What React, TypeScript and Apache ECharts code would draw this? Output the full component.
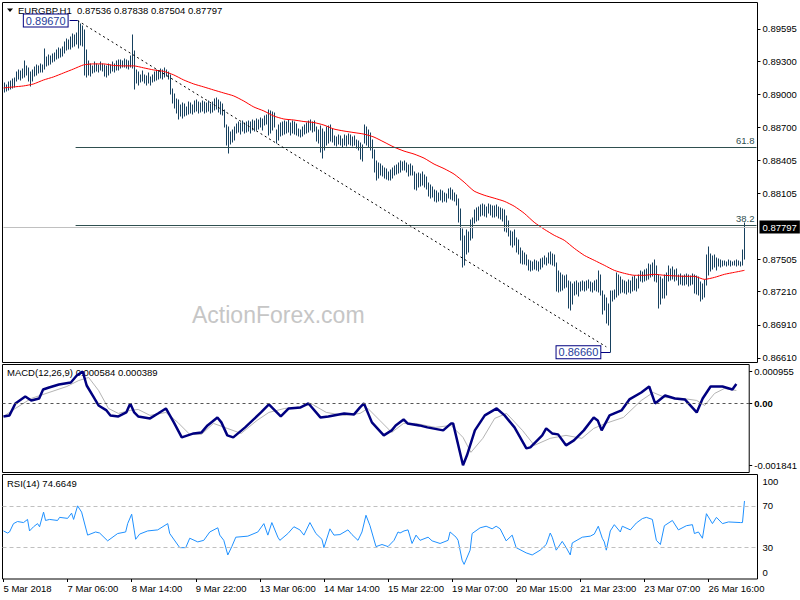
import React, { useEffect, useRef } from "react";
import * as echarts from "echarts";

// ---------- data ----------
const SYMBOL = "EURGBP,H1";
const LAST_OHLC = [0.87536, 0.87838, 0.87504, 0.87797];
const BASE = 0.86;
const UNIT = 1e-4; // price = BASE + u * UNIT

const HIGHS = [
  310,309,311,312,314,315,320,322,321,323,
  330,326,324,320,322,325,327,326,328,327,
  341,334,336,335,337,338,340,342,341,343,
  348,350,349,352,355,354,356,367,364,362,
  358,340,330,328,326,329,328,327,329,328,
  327,326,328,327,329,328,330,331,331,330,
  332,331,330,335,354,339,322,320,318,321,
  318,317,319,316,318,320,322,321,323,322,
  324,322,320,318,305,300,296,295,290,292,
  291,289,293,292,290,294,295,293,292,294,
  293,292,294,291,293,296,297,295,293,291,
  286,272,270,266,268,270,273,275,274,276,
  274,275,276,275,277,276,278,277,279,278,
  280,281,286,285,284,283,268,272,274,275,
  276,275,277,274,276,275,273,269,268,270,
  272,274,276,277,275,276,270,268,271,269,
  266,270,271,272,269,262,261,263,262,260,
  263,262,264,263,261,262,259,258,256,254,
  272,270,268,265,259,250,240,238,237,235,
  233,232,230,231,233,235,236,238,240,239,
  240,238,236,237,235,230,228,229,228,230,
  227,225,220,218,216,213,212,211,213,212,
  211,210,214,215,213,211,209,205,196,178,
  172,177,175,186,188,195,197,198,200,201,
  200,198,201,200,199,199,200,198,197,196,
  195,190,185,176,175,177,170,168,161,158,
  156,154,150,149,148,150,149,148,151,152,
  153,152,156,157,155,154,147,140,138,136,
  135,136,131,130,128,130,131,129,130,131,
  130,131,132,130,129,131,132,140,136,122,
  118,115,110,122,122,123,138,136,134,132,
  131,130,132,131,134,135,133,136,140,139,
  141,142,146,145,147,150,144,136,134,133,
  136,138,144,142,143,141,142,136,137,135,
  136,137,136,135,137,136,135,134,130,128,
  132,154,162,155,153,154,152,151,150,149,
  149,148,150,149,148,149,150,149,148,159,183.8
];
const LOWS = [
  302,303,304,305,306,307,312,314,313,315,
  316,318,312,308,312,317,318,319,320,320,
  323,326,327,328,329,330,332,333,334,335,
  338,340,341,341,343,344,346,342,345,344,
  318,316,318,317,319,320,321,320,322,321,
  317,316,318,319,321,320,322,322,324,325,
  325,324,323,325,324,305,310,309,311,312,
  310,309,310,309,311,312,313,314,315,314,
  316,317,314,300,292,288,283,278,280,279,
  280,281,282,283,282,284,285,283,284,285,
  283,284,285,283,284,286,287,284,282,281,
  270,254,247,255,257,259,265,266,264,267,
  265,266,267,265,268,267,268,269,270,268,
  272,273,263,265,268,270,256,259,262,263,
  264,265,266,263,265,264,263,262,261,262,
  264,265,266,268,266,267,258,256,248,242,
  250,254,256,258,257,254,253,255,254,252,
  254,253,255,254,253,254,251,250,241,240,
  256,254,252,250,242,230,222,224,227,226,
  224,223,222,222,224,227,228,229,230,231,
  231,230,226,227,227,214,213,216,217,218,
  216,214,208,206,207,203,202,203,204,202,
  203,202,206,205,204,203,200,184,168,143,
  145,155,157,168,170,183,185,186,190,191,
  190,189,192,191,189,189,190,188,187,185,
  176,175,172,163,162,163,157,155,147,146,
  146,145,141,140,141,142,141,140,142,143,
  146,145,147,146,145,144,122,121,122,123,
  124,125,106,104,110,118,119,117,122,123,
  122,123,124,122,121,123,122,121,118,101,
  104,93,91,66,113,114,116,118,120,121,
  120,119,121,120,122,123,122,124,131,130,
  131,132,133,134,135,131,130,106,110,115,
  115,118,131,132,133,131,132,127,128,127,
  127,128,126,127,128,120,119,118,113,114,
  116,127,136,140,142,143,141,144,143,144,
  145,144,145,144,145,145,144,145,144,145,150.4
];

// moving average readings: [bar, u]
const MA_POINTS = [
  [0,305.9],[5,306.8],[10,307.7],[15,309.5],[20,313.1],[25,315.9],[30,319.5],[35,323.1],
  [40,326.8],[45,327.7],[50,327.7],[55,326.3],[60,325.9],[65,325.9],[70,324.1],[75,322.2],
  [80,320.9],[85,317.7],[90,313.1],[95,309.5],[100,306.8],[105,304.0],[110,301.3],[115,298.6],
  [120,294.0],[125,288.6],[130,285.0],[135,280.4],[140,277.7],[145,276.8],[150,275.4],[155,274.5],
  [160,272.2],[165,268.6],[170,266.8],[175,265.4],[180,264.0],[185,261.3],[190,256.8],[195,252.2],
  [200,248.6],[205,245.9],[210,242.2],[215,236.8],[220,232.7],[225,227.7],[230,220.4],[235,212.3],
  [240,208.6],[245,205.9],[250,203.1],[255,198.6],[260,192.2],[265,184.0],[270,177.7],[275,172.2],
  [280,167.7],[285,160.4],[290,154.0],[295,149.5],[300,145.0],[305,140.4],[310,137.7],[315,135.9],
  [320,135.9],[325,136.8],[330,135.9],[335,135.4],[340,135.0],[345,135.0],[350,132.2],[355,134.0],
  [360,136.8],[365,138.6],[370,140.4]
];

// MACD readings: [bar, value in 1e-5]
const MACD_MAIN = [
  [0,-38.4],[3,-35.4],[6,0.3],[11,21.1],[14,9.2],[18,15.2],[20,41.9],[23,47.9],[28,56.8],[34,62.8],
  [37,83.6],[40,95.5],[42,53.8],[45,24.1],[48,-5.7],[52,-20.5],[54,-35.4],[58,-38.4],[62,-26.5],
  [64,0.3],[66,-26.5],[68,-38.4],[74,-44.3],[78,-29.5],[82,-14.6],[86,-56.2],[90,-100.9],[96,-89.0],
  [100,-86.0],[103,-65.2],[108,-41.4],[110,-56.2],[113,-94.9],[116,-100.9],[122,-71.1],[130,-26.5],
  [134,-2.7],[140,-38.4],[144,-14.6],[150,-11.6],[154,0.3],[160,-41.4],[164,-38.4],[172,-29.5],
  [177,-32.4],[180,-11.6],[182,0.3],[186,-56.2],[192,-94.9],[196,-80.0],[198,-65.2],[202,-47.3],
  [204,-59.2],[210,-65.2],[214,-71.1],[222,-80.0],[226,-59.2],[227,-59.2],[232,-184.1],[234,-154.4],
  [238,-80.0],[243,-35.4],[249,-14.6],[253,-35.4],[258,-71.1],[264,-133.6],[266,-130.6],[272,-94.9],
  [274,-74.1],[277,-89.0],[280,-91.9],[284,-124.6],[288,-109.8],[293,-80.0],[298,-41.4],[300,-50.3],
  [302,-80.0],[306,-35.4],[312,-20.5],[316,12.2],[322,33.0],[326,50.9],[329,0.3],[334,24.1],
  [339,15.2],[344,12.2],[350,-26.5],[353,15.2],[357,50.9],[363,50.9],[368,41.9],[370,58.4]
];
const MACD_SIGNAL = [
  [0,-38.4],[6,-14.6],[14,15.2],[23,33.0],[32,50.9],[38,68.7],[43,77.6],[48,39.0],[53,-14.6],
  [58,-29.5],[64,-20.5],[68,-17.6],[74,-35.4],[82,-26.5],[88,-56.2],[94,-91.9],[100,-91.9],
  [106,-59.2],[113,-74.1],[120,-89.0],[128,-50.3],[134,-26.5],[142,-14.6],[148,-11.6],[156,-2.7],
  [163,-26.5],[172,-35.4],[180,-29.5],[184,-14.6],[190,-50.3],[196,-86.0],[202,-59.2],[208,-59.2],
  [218,-71.1],[226,-65.2],[232,-100.9],[236,-145.5],[242,-103.8],[248,-44.3],[254,-29.5],
  [262,-80.0],[268,-124.6],[276,-103.8],[284,-94.9],[292,-103.8],[298,-74.1],[304,-59.2],
  [313,-41.4],[322,9.2],[328,33.0],[334,18.1],[343,15.2],[350,9.2],[354,-5.7],[359,30.0],
  [364,44.9],[370,38.9]
];
const MACD_LAST = [0.000584, 0.000389];

// RSI readings: [bar, value]
const RSI = [
  [0,46],[2,44],[3,45],[5,53],[7,55],[10,54],[12,57],[13,46],[15,50],[17,53],[18,50],[20,64],
  [21,56],[23,57],[27,56],[28,59],[32,58],[34,63],[35,57],[37,70],[39,64],[42,42],[46,45],[48,44],
  [52,36.5],[57,43.5],[61,45],[62,53],[64,62],[66,38],[68,43],[72,46],[77,47],[82,53],[83,43.5],
  [88,30],[91,30],[93,39],[97,35.5],[100,37],[103,45],[107,49],[108,42],[110,37],[112,23],[114,31],
  [116,40],[122,41],[127,45],[130,53],[132,42],[134,54],[137,40],[138,37],[142,43.5],[145,50],
  [148,47],[150,42],[153,54],[156,43.5],[159,38],[160,30],[163,48],[165,42],[168,42.5],[172,47],
  [174,42.5],[177,37],[179,45],[181,61],[183,51],[186,31],[189,33],[192,31],[195,37],[197,45],
  [198,44],[200,46],[202,47],[204,34],[206,42],[208,37],[212,40],[214,36.5],[218,34],[222,37],
  [223,45],[226,40],[227,37],[229,18],[230,14],[233,27.6],[234,43.5],[238,49],[241,50.5],[244,48],
  [246,50.5],[248,48],[251,36.5],[254,42],[256,30],[261,25],[264,23],[268,27.6],[271,33],[273,44],
  [274,40],[276,27.6],[279,36],[281,30],[283,23],[284,34.5],[289,40],[293,41],[295,43],[297,50.5],
  [299,39],[300,35.5],[301,27.6],[303,46],[305,52],[308,45],[309,50.5],[313,47],[316,53.6],
  [319,57.8],[321,59],[324,57],[326,37],[328,33],[330,51],[334,56],[337,47],[341,51],[344,52],
  [345,43.5],[347,45],[349,39],[351,62.5],[354,53],[356,59],[359,53],[362,54.6],[368,54],[369,54],
  [370,74.66]
];
const RSI_LAST = 74.6649;
const RSI_LEVELS = [70, 30];

const TIME_LABELS = [
  "5 Mar 2018", "7 Mar 06:00", "8 Mar 14:00", "9 Mar 22:00", "13 Mar 06:00", "14 Mar 14:00",
  "15 Mar 22:00", "19 Mar 07:00", "20 Mar 15:00", "21 Mar 23:00", "23 Mar 07:00", "26 Mar 16:00"
];
const PRICE_TICKS = [0.89595, 0.893, 0.89, 0.887, 0.88405, 0.88105, 0.87505, 0.8721, 0.8691, 0.8661];
const MACD_TICKS = [0.000955, 0, -0.001841];
const RSI_TICKS = [100, 70, 30, 0];

const SWING_HIGH = { bar: 37, price: 0.8967, text: "0.89670" };
const SWING_LOW = { bar: 303, price: 0.8666, text: "0.86660" };
const FIB_LEVELS = [
  { text: "61.8", price: 0.8852 },
  { text: "38.2", price: 0.8781 },
];
const FIB_START_BAR = 36;

// ---------- layout / style ----------
const SLOTS = 377; // bars plus right shift
const LABEL_EVERY = 32;
const FONT = '"Liberation Sans", Arial, sans-serif';
const BAR_COLOR = "#17415f";

export default function App() {
  const ref = useRef<HTMLDivElement>(null);

  useEffect(() => {
    if (!ref.current) return;
    const chart = echarts.init(ref.current, undefined, { renderer: "svg" });
    const cats = Array.from({ length: SLOTS }, (_, i) => String(i));
    const toP = (u: number) => BASE + u * UNIT;
    const bars = HIGHS.map((h, i) => [i, toP(LOWS[i]), toP(h)]);
    const lastBar = SLOTS - 1;
    const labelShow = (idx: number) => idx % LABEL_EVERY === 0 && idx / LABEL_EVERY < TIME_LABELS.length;

    const hiddenX = (gi: number) => ({
      type: "category", gridIndex: gi, data: cats, boundaryGap: true, show: false,
    });

    const option: any = {
      animation: false,
      backgroundColor: "#fff",
      textStyle: { fontFamily: FONT },
      grid: [
        { left: 2.5, top: 2.5, width: 755, height: 360, show: true, borderColor: "#000", borderWidth: 1 },
        { left: 2.5, top: 364.5, width: 755, height: 108, show: true, borderColor: "#000", borderWidth: 1 },
        { left: 2.5, top: 474.5, width: 755, height: 104.5, show: true, borderColor: "#000", borderWidth: 1 },
      ],
      xAxis: [
        hiddenX(0),
        hiddenX(1),
        {
          type: "category", gridIndex: 2, data: cats, boundaryGap: true,
          axisLine: { show: false },
          axisTick: { show: true, alignWithLabel: true, interval: (i: number) => labelShow(i), length: 3, lineStyle: { color: "#000" } },
          axisLabel: {
            interval: (i: number) => labelShow(i),
            formatter: (_v: string, i: number) => TIME_LABELS[i / LABEL_EVERY] ?? "",
            align: "left", margin: 4, fontSize: 9.5, color: "#000", fontFamily: FONT,
          },
          splitLine: { show: false },
        },
      ],
      yAxis: [
        {
          type: "value", gridIndex: 0, position: "right", min: 0.86568, max: 0.89834, scale: true,
          axisLine: { show: false }, splitLine: { show: false },
          axisTick: { show: true, customValues: PRICE_TICKS, length: 3, lineStyle: { color: "#000" } },
          axisLabel: { customValues: PRICE_TICKS, formatter: (v: number) => v.toFixed(5), fontSize: 9.5, color: "#000", margin: 5, fontFamily: FONT },
        },
        {
          type: "value", gridIndex: 1, position: "right", min: -0.002056, max: 0.001164,
          axisLine: { show: false }, splitLine: { show: false },
          axisTick: { show: true, customValues: MACD_TICKS, length: 3, lineStyle: { color: "#000" } },
          axisLabel: {
            customValues: MACD_TICKS,
            formatter: (v: number) => (v === 0 ? "{b|0.00}" : v.toFixed(6)),
            rich: { b: { fontWeight: "bold", fontSize: 9.5, color: "#000" } },
            fontSize: 9.5, color: "#000", margin: 5, fontFamily: FONT,
          },
        },
        {
          type: "value", gridIndex: 2, position: "right", min: 0, max: 100,
          axisLine: { show: false }, splitLine: { show: false },
          axisTick: { show: false },
          axisLabel: {
            customValues: RSI_TICKS,
            formatter: (v: number) => (v === 100 ? "{dn|100}" : v === 0 ? "{up|0}" : String(v)),
            rich: {
              dn: { padding: [14, 0, 0, 0], fontSize: 9.5, color: "#000" },
              up: { padding: [0, 0, 14, 0], fontSize: 9.5, color: "#000" },
            },
            fontSize: 9.5, color: "#000", margin: 5, fontFamily: FONT,
          },
        },
      ],
      graphic: [
        {
          type: "text", x: 192, y: 303, z: 0,
          style: { text: "ActionForex.com", font: `23px ${FONT}`, fill: "#c6c6c6" },
        },
        { type: "polygon", shape: { points: [[7, 8.5], [13, 8.5], [10, 12]] }, style: { fill: "#000" } },
        {
          type: "text", x: 18, y: 5.5,
          style: { text: `${SYMBOL}  ${LAST_OHLC.map((v) => v.toFixed(5)).join(" ")}`, font: `9.5px ${FONT}`, fill: "#000" },
        },
        {
          type: "text", x: 7, y: 367.5,
          style: { text: `MACD(12,26,9) ${MACD_LAST.map((v) => v.toFixed(6)).join(" ")}`, font: `9.5px ${FONT}`, fill: "#000" },
        },
        {
          type: "text", x: 7, y: 478.5,
          style: { text: `RSI(14) ${RSI_LAST.toFixed(4)}`, font: `9.5px ${FONT}`, fill: "#000" },
        },
      ],
      series: [
        {
          type: "custom", name: "price", xAxisIndex: 0, yAxisIndex: 0, z: 3,
          data: bars, encode: { x: 0, y: [1, 2] },
          renderItem: (_p: any, api: any) => {
            const i = api.value(0);
            const lo = api.coord([i, api.value(1)]);
            const hi = api.coord([i, api.value(2)]);
            const x = Math.round(lo[0]) + 0.5;
            return {
              type: "line",
              shape: { x1: x, y1: Math.round(lo[1]) + 0.5, x2: x, y2: Math.round(hi[1]) - 0.5 },
              style: { stroke: BAR_COLOR, lineWidth: 1 },
            };
          },
          markPoint: {
            symbol: "circle", symbolSize: 0, silent: true,
            data: [SWING_HIGH, SWING_LOW].map((s) => ({
              coord: [s.bar, s.price],
              label: {
                show: true, position: "left", distance: 10, formatter: s.text,
                color: "#1e3c9a", fontSize: 11, fontFamily: FONT,
                backgroundColor: "#fff", borderColor: "#000080", borderWidth: 1, padding: [1, 2, 0, 2],
              },
            })),
          },
        },
        {
          type: "line", name: "ma", xAxisIndex: 0, yAxisIndex: 0, z: 4,
          data: MA_POINTS.map(([i, u]) => [i, toP(u)]),
          showSymbol: false, smooth: 0.2,
          lineStyle: { color: "#ff0000", width: 1 },
          markLine: {
            silent: true, symbol: ["none", "none"], animation: false, precision: 5,
            data: [
              [
                {
                  coord: [0, LAST_OHLC[3]], lineStyle: { color: "#c0c0c0", width: 1, type: "solid" },
                  label: {
                    show: true, position: "end", formatter: LAST_OHLC[3].toFixed(5),
                    backgroundColor: "#000", color: "#fff", padding: [2, 3, 1, 3], fontSize: 9.5, distance: 3, fontFamily: FONT,
                  },
                },
                { coord: [lastBar, LAST_OHLC[3]] },
              ],
              ...FIB_LEVELS.map((f) => [
                {
                  coord: [FIB_START_BAR, f.price],
                  lineStyle: { color: "#2f4f4f", width: 1, type: "solid" },
                  label: { show: true, position: "insideEndTop", formatter: f.text, color: "#2f4f4f", fontSize: 9.5, distance: 2, fontFamily: FONT },
                },
                { coord: [lastBar, f.price] },
              ]),
              [
                { coord: [SWING_HIGH.bar, SWING_HIGH.price], lineStyle: { color: "#000", width: 1, type: [2, 3] }, label: { show: false } },
                { coord: [SWING_LOW.bar - 2, SWING_LOW.price + 0.0005] },
              ],
              [
                { coord: [SWING_HIGH.bar - 4, SWING_HIGH.price], lineStyle: { color: "#000080", width: 1, type: "solid" }, label: { show: false } },
                { coord: [SWING_HIGH.bar, SWING_HIGH.price] },
              ],
              [
                { coord: [SWING_LOW.bar - 5, SWING_LOW.price], lineStyle: { color: "#000080", width: 1, type: "solid" }, label: { show: false } },
                { coord: [SWING_LOW.bar, SWING_LOW.price] },
              ],
            ],
          },
        },
        {
          type: "line", name: "macd", xAxisIndex: 1, yAxisIndex: 1, z: 4,
          data: MACD_MAIN.map(([i, v]) => [i, v * 1e-5]),
          showSymbol: false, lineStyle: { color: "#000080", width: 2.5 },
          markLine: {
            silent: true, symbol: ["none", "none"], precision: 6,
            data: [{ yAxis: 0, lineStyle: { color: "#555", width: 1, type: [3, 3] }, label: { show: false } }],
          },
        },
        {
          type: "line", name: "signal", xAxisIndex: 1, yAxisIndex: 1, z: 3,
          data: MACD_SIGNAL.map(([i, v]) => [i, v * 1e-5]),
          showSymbol: false, lineStyle: { color: "#b4b4b4", width: 1 },
        },
        {
          type: "line", name: "rsi", xAxisIndex: 2, yAxisIndex: 2, z: 4,
          data: RSI, showSymbol: false, lineStyle: { color: "#1e90ff", width: 1 },
          markLine: {
            silent: true, symbol: ["none", "none"],
            data: RSI_LEVELS.map((l) => ({ yAxis: l, lineStyle: { color: "#c0c0c0", width: 1, type: [4, 3] }, label: { show: false } })),
          },
        },
      ],
    };

    chart.setOption(option);
    return () => chart.dispose();
  }, []);

  return <div ref={ref} style={{ position: "absolute", left: 0, top: 0, width: 800, height: 600 }} />;
}
